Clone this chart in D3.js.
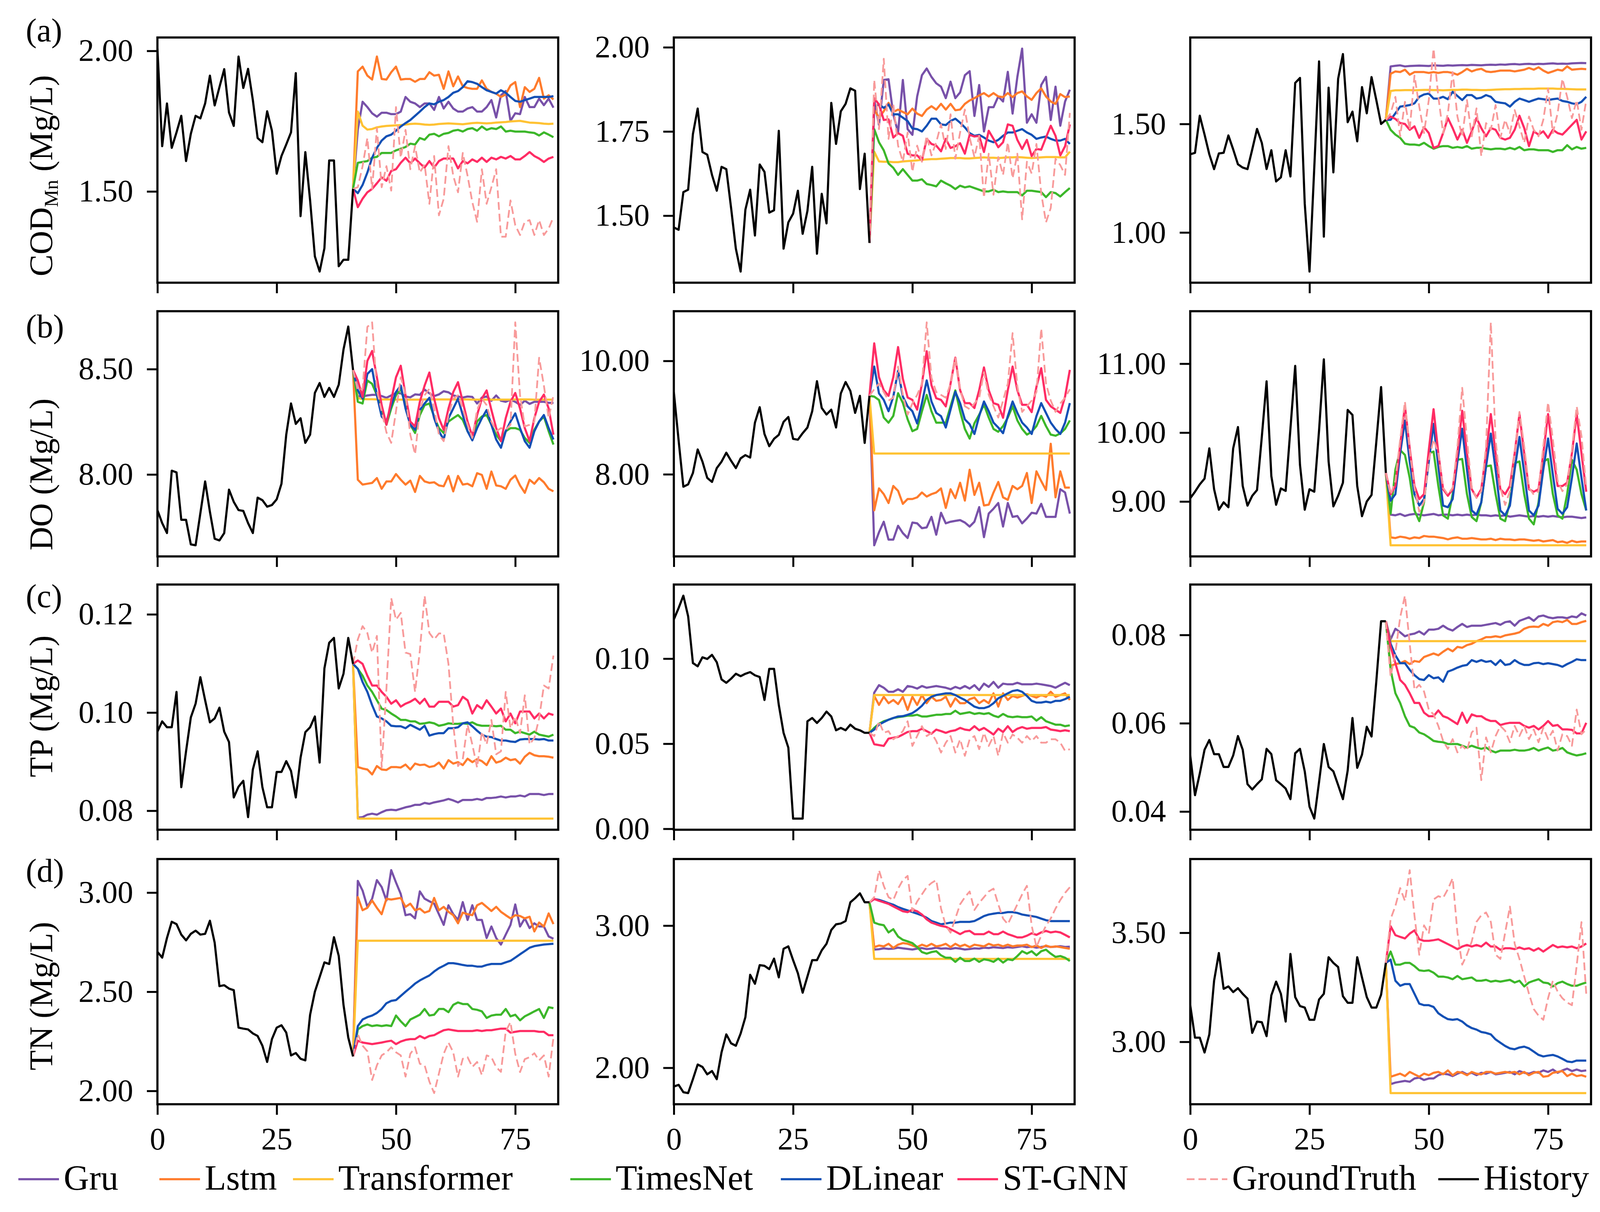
<!DOCTYPE html>
<html>
<head>
<meta charset="utf-8">
<script src="https://cdn.jsdelivr.net/npm/d3@7"></script>
<style>
  html, body { margin: 0; padding: 0; background: #fff; }
  svg { display: block; }
</style>
</head>
<body>
<svg id="chart"></svg>
<script>
// series names, colours and tick labels
const seriesNames = ['Gru', 'Lstm', 'Transformer', 'TimesNet', 'DLinear', 'ST-GNN', 'GroundTruth', 'History'];
const seriesColors = ['#7851a9', '#ff7b2c', '#ffc233', '#3cb72a', '#1350b5', '#ff2c64', '#f89a9a', '#000000'];
const xTickValues = [0, 25, 50, 75];
const rowLetters = ['(a)', '(b)', '(c)', '(d)'];
const yTickValues = [
  [[1.5, 2.0], [1.5, 1.75, 2.0], [1.0, 1.5]],
  [[8.0, 8.5], [8.0, 10.0], [9.0, 10.0, 11.0]],
  [[0.08, 0.10, 0.12], [0.00, 0.05, 0.10], [0.04, 0.06, 0.08]],
  [[2.0, 2.5, 3.0], [2.0, 3.0], [3.0, 3.5]]
];

// ---- (a) COD, column 1
const a1History = [2.008, 1.661, 1.813, 1.655, 1.71, 1.769, 1.608, 1.705, 1.769, 1.76,
  1.813, 1.912, 1.806, 1.871, 1.935, 1.781, 1.733, 1.98, 1.868, 1.936,
  1.825, 1.69, 1.675, 1.785, 1.716, 1.563, 1.626, 1.667, 1.71, 1.921,
  1.412, 1.64, 1.468, 1.269, 1.215, 1.298, 1.61, 1.61, 1.234, 1.257,
  1.257, 1.509];
const a1Gru = [1.72, 1.819, 1.80, 1.778, 1.766, 1.78, 1.78, 1.775, 1.775, 1.784,
  1.836, 1.819, 1.813, 1.80, 1.813, 1.813, 1.79, 1.836, 1.795, 1.819,
  1.795, 1.784, 1.784, 1.795, 1.80, 1.784, 1.784, 1.80, 1.825, 1.763,
  1.842, 1.857, 1.751, 1.778, 1.775, 1.836, 1.80, 1.80, 1.83, 1.807,
  1.83, 1.798];
const a1Lstm = [1.927, 1.944, 1.912, 1.898, 1.98, 1.90, 1.898, 1.924, 1.944, 1.898,
  1.90, 1.90, 1.89, 1.90, 1.90, 1.924, 1.912, 1.915, 1.865, 1.927,
  1.874, 1.909, 1.874, 1.868, 1.865, 1.865, 1.895, 1.865, 1.854, 1.848,
  1.836, 1.845, 1.877, 1.889, 1.80, 1.871, 1.854, 1.865, 1.904, 1.83,
  1.842, 1.827];
const a1Transformer = [1.784, 1.734, 1.72, 1.722, 1.728, 1.731, 1.733, 1.734, 1.735, 1.736,
  1.738, 1.740, 1.741, 1.740, 1.738, 1.737, 1.738, 1.740, 1.741, 1.742,
  1.741, 1.740, 1.739, 1.741, 1.743, 1.744, 1.743, 1.742, 1.743, 1.745,
  1.746, 1.747, 1.749, 1.750, 1.751, 1.748, 1.745, 1.744, 1.743, 1.741,
  1.740, 1.741];
const a1TimesNet = [1.602, 1.605, 1.608, 1.62, 1.623, 1.637, 1.637, 1.637, 1.646, 1.652,
  1.658, 1.67, 1.667, 1.69, 1.684, 1.702, 1.705, 1.696, 1.705, 1.708,
  1.716, 1.719, 1.713, 1.722, 1.725, 1.716, 1.731, 1.719, 1.725, 1.722,
  1.731, 1.713, 1.716, 1.713, 1.713, 1.713, 1.71, 1.708, 1.699, 1.71,
  1.702, 1.693];
const a1DLinear = [1.494, 1.523, 1.567, 1.62, 1.655, 1.681, 1.696, 1.702, 1.716, 1.731,
  1.743, 1.754, 1.769, 1.784, 1.80, 1.813, 1.81, 1.819, 1.825, 1.836,
  1.851, 1.857, 1.871, 1.892, 1.889, 1.883, 1.871, 1.86, 1.854, 1.848,
  1.86, 1.851, 1.836, 1.822, 1.819, 1.825, 1.83, 1.836, 1.836, 1.836,
  1.836, 1.839];
const a1STGNN = [1.444, 1.474, 1.497, 1.509, 1.529, 1.55, 1.538, 1.573, 1.579, 1.602,
  1.62, 1.60, 1.617, 1.60, 1.585, 1.608, 1.585, 1.608, 1.617, 1.617,
  1.617, 1.582, 1.608, 1.60, 1.614, 1.605, 1.62, 1.605, 1.62, 1.614,
  1.623, 1.617, 1.626, 1.614, 1.614, 1.626, 1.64, 1.626, 1.617, 1.605,
  1.617, 1.623];
const a1GroundTruth = [1.515, 1.59, 1.69, 1.509, 1.725, 1.515, 1.59, 1.503, 1.80, 1.62,
  1.719, 1.579, 1.661, 1.567, 1.596, 1.456, 1.626, 1.415, 1.474, 1.661,
  1.556, 1.497, 1.637, 1.556, 1.462, 1.392, 1.579, 1.456, 1.515, 1.579,
  1.339, 1.339, 1.468, 1.38, 1.345, 1.392, 1.398, 1.345, 1.398, 1.345,
  1.368, 1.409];

// ---- (a) COD, column 2
const a2History = [1.465, 1.458, 1.57, 1.577, 1.742, 1.818, 1.689, 1.681, 1.621, 1.574,
  1.645, 1.638, 1.523, 1.402, 1.334, 1.518, 1.577, 1.441, 1.652, 1.63,
  1.509, 1.516, 1.752, 1.402, 1.48, 1.506, 1.574, 1.446, 1.514, 1.645,
  1.387, 1.565, 1.477, 1.835, 1.713, 1.81, 1.832, 1.878, 1.871, 1.579,
  1.684, 1.419];
const a2Gru = [1.844, 1.769, 1.903, 1.905, 1.801, 1.747, 1.903, 1.757, 1.74, 1.854,
  1.917, 1.937, 1.912, 1.893, 1.883, 1.849, 1.898, 1.849, 1.866, 1.917,
  1.929, 1.796, 1.888, 1.75, 1.822, 1.822, 1.854, 1.839, 1.927, 1.803,
  1.912, 1.996, 1.776, 1.801, 1.776, 1.888, 1.912, 1.784, 1.883, 1.767,
  1.839, 1.874];
const a2Lstm = [1.815, 1.791, 1.81, 1.835, 1.808, 1.815, 1.808, 1.801, 1.818, 1.803,
  1.796, 1.815, 1.825, 1.815, 1.832, 1.815, 1.832, 1.813, 1.815, 1.832,
  1.842, 1.849, 1.857, 1.864, 1.854, 1.864, 1.854, 1.852, 1.864, 1.852,
  1.864, 1.869, 1.854, 1.844, 1.864, 1.878, 1.854, 1.839, 1.832, 1.861,
  1.852, 1.854];
const a2Transformer = [1.690, 1.661, 1.660, 1.660, 1.659, 1.659, 1.661, 1.662, 1.663, 1.664,
  1.666, 1.667, 1.668, 1.668, 1.669, 1.670, 1.671, 1.671, 1.671, 1.670,
  1.670, 1.671, 1.672, 1.673, 1.672, 1.672, 1.671, 1.672, 1.673, 1.673,
  1.674, 1.673, 1.672, 1.671, 1.672, 1.673, 1.674, 1.674, 1.674, 1.673,
  1.673, 1.690];
const a2TimesNet = [1.757, 1.718, 1.694, 1.655, 1.642, 1.621, 1.638, 1.621, 1.604, 1.604,
  1.608, 1.594, 1.591, 1.587, 1.604, 1.596, 1.589, 1.579, 1.589, 1.584,
  1.587, 1.582, 1.577, 1.572, 1.572, 1.577, 1.57, 1.572, 1.57, 1.57,
  1.57, 1.56, 1.574, 1.574, 1.572, 1.57, 1.555, 1.57, 1.567, 1.557,
  1.57, 1.582];
const a2DLinear = [1.825, 1.83, 1.82, 1.83, 1.801, 1.801, 1.791, 1.781, 1.759, 1.757,
  1.75, 1.767, 1.788, 1.788, 1.771, 1.769, 1.781, 1.788, 1.776, 1.762,
  1.745, 1.737, 1.74, 1.732, 1.723, 1.718, 1.725, 1.737, 1.747, 1.747,
  1.752, 1.757, 1.747, 1.74, 1.728, 1.732, 1.735, 1.728, 1.723, 1.723,
  1.728, 1.713];
const a2STGNN = [1.849, 1.83, 1.784, 1.786, 1.732, 1.745, 1.737, 1.684, 1.679, 1.679,
  1.664, 1.728, 1.713, 1.708, 1.691, 1.728, 1.701, 1.706, 1.715, 1.684,
  1.74, 1.735, 1.737, 1.689, 1.752, 1.728, 1.703, 1.718, 1.771, 1.767,
  1.725, 1.698, 1.725, 1.677, 1.698, 1.696, 1.732, 1.767, 1.737, 1.679,
  1.706, 1.771];
const a2GroundTruth = [1.903, 1.757, 1.966, 1.728, 1.83, 1.708, 1.66, 1.747, 1.63, 1.708,
  1.66, 1.737, 1.679, 1.718, 1.771, 1.698, 1.801, 1.669, 1.747, 1.815,
  1.732, 1.674, 1.737, 1.553, 1.684, 1.562, 1.674, 1.621, 1.718, 1.611,
  1.684, 1.489, 1.66, 1.625, 1.713, 1.567, 1.48, 1.523, 1.669, 1.65,
  1.621, 1.805];

// ---- (a) COD, column 3
const a3History = [1.36, 1.367, 1.538, 1.451, 1.36, 1.292, 1.364, 1.367, 1.447, 1.383,
  1.314, 1.299, 1.292, 1.383, 1.477, 1.413, 1.292, 1.379, 1.235, 1.254,
  1.379, 1.258, 1.689, 1.712, 1.133, 0.82, 1.30, 1.788, 0.981, 1.667,
  1.277, 1.708, 1.822, 1.508, 1.557, 1.42, 1.67, 1.549, 1.716, 1.61,
  1.50, 1.519];
const a3Gru = [1.765, 1.768, 1.770, 1.765, 1.767, 1.768, 1.769, 1.768, 1.767, 1.770,
  1.769, 1.768, 1.770, 1.769, 1.770, 1.771, 1.770, 1.772, 1.771, 1.770,
  1.772, 1.773, 1.772, 1.774, 1.773, 1.775, 1.776, 1.774, 1.776, 1.777,
  1.775, 1.777, 1.776, 1.778, 1.779, 1.777, 1.778, 1.777, 1.779, 1.780,
  1.781, 1.780];
const a3Lstm = [1.731, 1.742, 1.739, 1.75, 1.727, 1.739, 1.739, 1.739, 1.735, 1.739,
  1.735, 1.739, 1.739, 1.735, 1.727, 1.739, 1.754, 1.742, 1.75, 1.754,
  1.742, 1.739, 1.742, 1.746, 1.746, 1.746, 1.742, 1.746, 1.75, 1.758,
  1.75, 1.761, 1.746, 1.735, 1.742, 1.75, 1.746, 1.765, 1.75, 1.752,
  1.754, 1.752];
const a3Transformer = [1.652, 1.655, 1.655, 1.656, 1.656, 1.655, 1.656, 1.657, 1.657, 1.656,
  1.656, 1.655, 1.656, 1.657, 1.657, 1.658, 1.658, 1.657, 1.657, 1.656,
  1.656, 1.657, 1.658, 1.659, 1.660, 1.660, 1.661, 1.661, 1.662, 1.662,
  1.662, 1.663, 1.663, 1.663, 1.663, 1.662, 1.662, 1.661, 1.660, 1.659,
  1.659, 1.659];
const a3TimesNet = [1.473, 1.451, 1.436, 1.409, 1.405, 1.405, 1.402, 1.413, 1.398, 1.386,
  1.394, 1.398, 1.398, 1.39, 1.394, 1.39, 1.398, 1.386, 1.39, 1.39,
  1.386, 1.383, 1.386, 1.386, 1.383, 1.39, 1.383, 1.394, 1.379, 1.383,
  1.383, 1.379, 1.379, 1.379, 1.371, 1.379, 1.379, 1.402, 1.383, 1.394,
  1.386, 1.39];
const a3DLinear = [1.519, 1.549, 1.58, 1.583, 1.587, 1.595, 1.625, 1.636, 1.64, 1.617,
  1.617, 1.625, 1.614, 1.648, 1.629, 1.61, 1.633, 1.633, 1.617, 1.621,
  1.633, 1.625, 1.602, 1.598, 1.595, 1.58, 1.602, 1.617, 1.61, 1.602,
  1.61, 1.617, 1.614, 1.61, 1.614, 1.617, 1.606, 1.602, 1.595, 1.591,
  1.602, 1.625];
const a3STGNN = [1.534, 1.523, 1.504, 1.50, 1.473, 1.489, 1.436, 1.485, 1.458, 1.39,
  1.398, 1.458, 1.527, 1.481, 1.428, 1.473, 1.413, 1.466, 1.527, 1.481,
  1.443, 1.481, 1.473, 1.436, 1.428, 1.436, 1.473, 1.538, 1.481, 1.398,
  1.466, 1.451, 1.466, 1.436, 1.473, 1.458, 1.451, 1.473, 1.496, 1.519,
  1.428, 1.466];
const a3GroundTruth = [1.549, 1.625, 1.443, 1.602, 1.473, 1.723, 1.58, 1.458, 1.61, 1.847,
  1.625, 1.458, 1.549, 1.739, 1.534, 1.443, 1.61, 1.443, 1.572, 1.352,
  1.504, 1.473, 1.587, 1.436, 1.519, 1.458, 1.564, 1.489, 1.413, 1.534,
  1.473, 1.443, 1.519, 1.663, 1.458, 1.549, 1.708, 1.625, 1.527, 1.61,
  1.473, 1.61];

// ---- (b) DO, column 1
const b1History = [7.831, 7.769, 7.722, 8.018, 8.01, 7.785, 7.785, 7.668, 7.664, 7.816,
  7.967, 7.823, 7.695, 7.687, 7.722, 7.928, 7.87, 7.831, 7.827, 7.769,
  7.722, 7.89, 7.878, 7.847, 7.855, 7.882, 7.956, 8.189, 8.337, 8.24,
  8.267, 8.15, 8.189, 8.387, 8.434, 8.368, 8.411, 8.368, 8.426, 8.593,
  8.702, 8.496];
const b1Gru = [8.372, 8.370, 8.375, 8.378, 8.378, 8.372, 8.364, 8.375, 8.387, 8.385,
  8.370, 8.366, 8.380, 8.378, 8.403, 8.385, 8.372, 8.380, 8.395, 8.390,
  8.375, 8.370, 8.365, 8.370, 8.368, 8.337, 8.365, 8.370, 8.350, 8.375,
  8.350, 8.345, 8.355, 8.345, 8.330, 8.350, 8.335, 8.345, 8.345, 8.345,
  8.340, 8.340];
const b1Lstm = [7.975, 7.952, 7.956, 7.96, 7.983, 7.932, 7.967, 7.967, 8.002, 7.975,
  7.952, 7.971, 7.917, 7.993, 7.967, 7.96, 7.963, 7.948, 7.944, 7.993,
  7.92, 7.993, 7.952, 7.956, 7.944, 8.006, 7.998, 7.932, 8.014, 7.948,
  7.944, 7.932, 7.975, 7.995, 7.948, 7.913, 7.975, 7.956, 7.983, 7.963,
  7.932, 7.92];
const b1Transformer = [8.362, 8.358, 8.357, 8.357, 8.356, 8.356, 8.356, 8.356, 8.355, 8.355,
  8.355, 8.355, 8.355, 8.355, 8.356, 8.356, 8.356, 8.356, 8.356, 8.356,
  8.356, 8.356, 8.356, 8.356, 8.355, 8.355, 8.355, 8.355, 8.355, 8.355,
  8.355, 8.355, 8.355, 8.356, 8.356, 8.356, 8.356, 8.355, 8.355, 8.355,
  8.355, 8.355];
const b1TimesNet = [8.345, 8.337, 8.446, 8.43, 8.376, 8.306, 8.236, 8.313, 8.376, 8.407,
  8.329, 8.236, 8.197, 8.282, 8.329, 8.337, 8.275, 8.22, 8.197, 8.251,
  8.267, 8.282, 8.259, 8.205, 8.173, 8.251, 8.275, 8.282, 8.236, 8.189,
  8.158, 8.205, 8.22, 8.22, 8.212, 8.173, 8.15, 8.212, 8.251, 8.275,
  8.205, 8.142];
const b1DLinear = [8.40, 8.36, 8.477, 8.50, 8.376, 8.275, 8.251, 8.329, 8.391, 8.422,
  8.313, 8.236, 8.212, 8.306, 8.337, 8.364, 8.267, 8.205, 8.166, 8.267,
  8.313, 8.36, 8.282, 8.205, 8.162, 8.22, 8.267, 8.306, 8.236, 8.166,
  8.127, 8.205, 8.251, 8.29, 8.22, 8.158, 8.127, 8.205, 8.251, 8.282,
  8.22, 8.166];
const b1STGNN = [8.446, 8.368, 8.539, 8.586, 8.461, 8.329, 8.236, 8.352, 8.461, 8.516,
  8.376, 8.251, 8.228, 8.345, 8.422, 8.484, 8.36, 8.267, 8.212, 8.313,
  8.391, 8.438, 8.345, 8.251, 8.181, 8.282, 8.36, 8.399, 8.306, 8.22,
  8.158, 8.267, 8.345, 8.387, 8.313, 8.22, 8.158, 8.267, 8.345, 8.379,
  8.313, 8.189];
const b1GroundTruth = [8.40, 8.407, 8.70, 8.722, 8.40, 8.30, 8.20, 8.15, 8.30, 8.461,
  8.383, 8.189, 8.096, 8.306, 8.376, 8.407, 8.313, 8.189, 8.158, 8.282,
  8.36, 8.376, 8.313, 8.236, 8.173, 8.306, 8.36, 8.329, 8.251, 8.205,
  8.22, 8.212, 8.236, 8.722, 8.376, 8.228, 8.236, 8.251, 8.554, 8.422,
  8.267, 8.376];

// ---- (b) DO, column 2
const b2History = [9.45, 8.60, 7.78, 7.822, 8.023, 8.438, 8.223, 7.937, 7.865, 8.109,
  8.223, 8.381, 8.238, 8.109, 8.281, 8.338, 8.295, 8.911, 9.183, 8.711,
  8.496, 8.625, 8.696, 8.925, 9.011, 8.625, 8.61, 8.725, 8.825, 9.112,
  9.642, 9.169, 9.054, 9.14, 8.825, 9.427, 9.628, 9.47, 9.083, 9.384,
  8.553, 9.384];
const b2Gru = [6.748, 6.977, 7.163, 6.848, 6.848, 7.092, 6.963, 6.877, 7.149, 7.135,
  7.049, 7.063, 7.249, 6.934, 7.321, 7.135, 7.163, 7.178, 7.192, 7.149,
  7.078, 7.163, 7.421, 6.891, 7.307, 7.393, 7.493, 7.078, 7.493, 7.249,
  7.264, 7.135, 7.221, 7.321, 7.307, 7.479, 7.249, 7.249, 7.249, 7.736,
  7.679, 7.307];
const b2Lstm = [7.364, 7.751, 7.65, 7.493, 7.794, 7.708, 7.479, 7.564, 7.564, 7.593,
  7.679, 7.607, 7.65, 7.679, 7.751, 7.407, 7.736, 7.579, 7.851, 7.536,
  8.08, 7.636, 7.851, 7.45, 7.464, 7.679, 7.865, 7.593, 7.55, 7.794,
  7.736, 7.794, 8.023, 7.493, 8.052, 7.88, 7.722, 8.539, 7.593, 8.052,
  7.765, 7.765];
const b2Transformer = [8.367, 8.367, 8.367, 8.367, 8.367, 8.367, 8.367, 8.367, 8.367, 8.367,
  8.367, 8.367, 8.367, 8.367, 8.367, 8.367, 8.367, 8.367, 8.367, 8.367,
  8.367, 8.367, 8.367, 8.367, 8.367, 8.367, 8.367, 8.367, 8.367, 8.367,
  8.367, 8.367, 8.367, 8.367, 8.367, 8.367, 8.367, 8.367, 8.367, 8.367,
  8.367, 8.367];
const b2TimesNet = [9.37, 9.31, 9.00, 8.91, 9.03, 9.43, 9.26, 8.97, 8.76, 8.80,
  9.11, 9.40, 9.11, 8.91, 8.91, 8.91, 9.20, 9.48, 9.11, 8.80,
  8.63, 8.90, 9.05, 9.23, 9.00, 8.80, 8.75, 8.85, 9.00, 9.20,
  8.95, 8.80, 8.70, 8.75, 8.85, 9.03, 8.85, 8.70, 8.68, 8.72,
  8.80, 8.95];
const b2DLinear = [9.90, 9.427, 9.312, 9.112, 9.37, 9.828, 9.37, 9.198, 9.112, 8.897,
  9.255, 9.656, 9.284, 9.083, 9.026, 8.825, 9.14, 9.456, 9.255, 8.968,
  8.883, 8.711, 9.026, 9.284, 9.112, 8.911, 8.825, 8.725, 9.026, 9.284,
  9.083, 8.911, 8.825, 8.711, 9.026, 9.255, 9.083, 8.911, 8.797, 8.711,
  8.911, 9.255];
const b2STGNN = [10.31, 9.713, 9.484, 9.384, 9.713, 10.244, 9.685, 9.355, 9.312, 9.14,
  9.599, 10.17, 9.57, 9.341, 9.312, 9.198, 9.599, 10.057, 9.484, 9.255,
  9.255, 9.169, 9.484, 9.885, 9.484, 9.255, 9.226, 8.997, 9.484, 9.90,
  9.484, 9.226, 9.226, 9.097, 9.542, 9.871, 9.312, 9.198, 9.14, 9.083,
  9.37, 9.842];
const b2GroundTruth = [9.50, 9.60, 9.45, 9.30, 9.35, 9.90, 9.40, 9.05, 9.25, 9.40,
  9.60, 10.68, 9.70, 9.45, 9.40, 9.35, 9.60, 10.05, 9.50, 9.20,
  9.15, 9.25, 9.35, 9.80, 9.40, 9.20, 9.00, 9.30, 9.60, 10.49,
  9.55, 9.10, 9.20, 9.30, 9.45, 10.57, 9.60, 9.30, 9.10, 9.25,
  9.35, 9.50];

// ---- (b) DO, column 3
const b3History = [9.047, 9.142, 9.249, 9.332, 9.771, 9.178, 8.881, 8.988, 8.917, 9.771,
  10.08, 9.225, 8.94, 9.083, 9.166, 9.937, 10.744, 9.368, 8.953, 9.19,
  9.154, 10.056, 10.969, 9.534, 8.881, 9.178, 9.142, 10.032, 11.064, 9.581,
  8.929, 9.083, 9.273, 10.329, 10.257, 9.225, 8.787, 9.0, 9.095, 9.866,
  10.661, 9.415];
const b3Gru = [8.81, 8.80, 8.82, 8.79, 8.81, 8.82, 8.81, 8.80, 8.81, 8.82,
  8.80, 8.81, 8.81, 8.80, 8.81, 8.80, 8.81, 8.80, 8.81, 8.80,
  8.80, 8.79, 8.80, 8.79, 8.80, 8.78, 8.79, 8.80, 8.79, 8.78,
  8.79, 8.78, 8.79, 8.78, 8.79, 8.78, 8.77, 8.78, 8.78, 8.77,
  8.76, 8.77];
const b3Lstm = [8.48, 8.47, 8.49, 8.48, 8.46, 8.48, 8.47, 8.50, 8.49, 8.49,
  8.48, 8.47, 8.45, 8.47, 8.48, 8.46, 8.46, 8.47, 8.46, 8.45,
  8.45, 8.46, 8.44, 8.46, 8.45, 8.45, 8.44, 8.45, 8.45, 8.44,
  8.43, 8.44, 8.42, 8.43, 8.44, 8.41, 8.42, 8.40, 8.43, 8.41,
  8.42, 8.42];
const b3Transformer = [8.365, 8.365, 8.365, 8.365, 8.365, 8.365, 8.365, 8.365, 8.365, 8.365,
  8.365, 8.365, 8.365, 8.365, 8.365, 8.365, 8.365, 8.365, 8.365, 8.365,
  8.365, 8.365, 8.365, 8.365, 8.365, 8.365, 8.365, 8.365, 8.365, 8.365,
  8.365, 8.365, 8.365, 8.365, 8.365, 8.365, 8.365, 8.365, 8.365, 8.365,
  8.365, 8.365];
const b3TimesNet = [8.822, 9.463, 9.747, 9.676, 9.344, 8.87, 8.715, 8.988, 9.70, 9.724,
  9.225, 8.798, 8.751, 9.107, 9.605, 9.617, 9.107, 8.775, 8.715, 8.988,
  9.51, 9.522, 9.107, 8.751, 8.715, 8.988, 9.558, 9.581, 9.107, 8.751,
  8.668, 8.988, 9.581, 9.617, 9.107, 8.798, 8.751, 9.107, 9.605, 9.463,
  9.107, 8.87];
const b3DLinear = [9.012, 9.107, 9.70, 10.174, 9.581, 9.107, 8.941, 9.036, 9.581, 10.127,
  9.51, 8.941, 8.917, 9.036, 9.581, 10.056, 9.463, 8.87, 8.81, 8.988,
  9.51, 9.985, 9.463, 8.87, 8.80, 8.941, 9.463, 9.937, 9.415, 8.87,
  8.80, 8.941, 9.463, 9.914, 9.392, 8.894, 8.822, 8.917, 9.344, 9.842,
  9.344, 8.87];
const b3STGNN = [9.107, 9.225, 9.819, 10.388, 9.771, 9.225, 9.036, 9.107, 9.747, 10.34,
  9.70, 9.178, 9.083, 9.178, 9.70, 10.317, 9.70, 9.178, 9.06, 9.178,
  9.70, 10.269, 9.70, 9.178, 9.107, 9.225, 9.70, 10.269, 9.70, 9.178,
  9.142, 9.178, 9.70, 10.269, 9.70, 9.225, 9.225, 9.273, 9.70, 10.269,
  9.70, 9.142];
const b3GroundTruth = [9.10, 9.30, 9.90, 10.45, 9.75, 9.20, 8.85, 9.00, 9.60, 9.90,
  9.70, 9.20, 9.10, 9.20, 9.80, 10.65, 9.90, 9.20, 9.05, 9.15,
  9.80, 11.60, 9.90, 9.20, 8.95, 9.15, 9.70, 10.30, 9.80, 9.20,
  9.10, 9.15, 9.80, 10.44, 9.90, 9.30, 9.15, 9.25, 9.75, 10.38,
  9.95, 9.20];

// ---- (c) TP, column 1
const c1History = [0.0961, 0.0982, 0.097, 0.097, 0.1042, 0.0848, 0.0921, 0.099, 0.1018, 0.1072,
  0.1025, 0.098, 0.0988, 0.101, 0.0961, 0.094, 0.0827, 0.0849, 0.0861, 0.0787,
  0.0884, 0.0921, 0.0848, 0.0807, 0.0807, 0.0879, 0.0879, 0.0901, 0.0881, 0.0827,
  0.0908, 0.096, 0.097, 0.0992, 0.0898, 0.109, 0.1142, 0.1152, 0.1049, 0.1079,
  0.1152, 0.1099];
const c1Gru = [0.0786, 0.0787, 0.0792, 0.0794, 0.0792, 0.0797, 0.0801, 0.0802, 0.0801, 0.0804,
  0.0807, 0.0809, 0.0812, 0.0812, 0.0816, 0.0814, 0.0817, 0.0819, 0.0821, 0.0824,
  0.0821, 0.0817, 0.0822, 0.0822, 0.0822, 0.0824, 0.0822, 0.0826, 0.0826, 0.0827,
  0.0829, 0.0827, 0.0829, 0.0829, 0.0831, 0.0829, 0.0834, 0.0834, 0.0834, 0.0832,
  0.0834, 0.0834];
const c1Lstm = [0.0889, 0.0886, 0.0884, 0.0874, 0.0891, 0.0884, 0.0883, 0.0889, 0.0889, 0.0888,
  0.0894, 0.0884, 0.0896, 0.0893, 0.0894, 0.0889, 0.0891, 0.0898, 0.0886, 0.0903,
  0.0896, 0.0899, 0.0893, 0.0906, 0.0899, 0.0905, 0.0901, 0.0893, 0.0911, 0.0898,
  0.0901, 0.0908, 0.0903, 0.0905, 0.0896, 0.091, 0.0918, 0.0913, 0.0911, 0.0911,
  0.091, 0.0908];
const c1Transformer = [0.0784, 0.0784, 0.0784, 0.0784, 0.0784, 0.0784, 0.0784, 0.0784, 0.0784, 0.0784,
  0.0784, 0.0784, 0.0784, 0.0784, 0.0784, 0.0784, 0.0784, 0.0784, 0.0784, 0.0784,
  0.0784, 0.0784, 0.0784, 0.0784, 0.0784, 0.0784, 0.0784, 0.0784, 0.0784, 0.0784,
  0.0784, 0.0784, 0.0784, 0.0784, 0.0784, 0.0784, 0.0784, 0.0784, 0.0784, 0.0784,
  0.0784, 0.0784];
const c1TimesNet = [0.1089, 0.1075, 0.1055, 0.1042, 0.1025, 0.1008, 0.1005, 0.0998, 0.0992, 0.0985,
  0.0985, 0.0982, 0.0982, 0.0977, 0.0978, 0.098, 0.0978, 0.0973, 0.0975, 0.0978,
  0.0977, 0.0977, 0.0978, 0.0977, 0.098, 0.0975, 0.0973, 0.0973, 0.0973, 0.0972,
  0.0973, 0.0965, 0.0965, 0.0958, 0.0961, 0.0958, 0.0955, 0.0961, 0.0955, 0.0953,
  0.0951, 0.0955];
const c1DLinear = [0.1089, 0.1062, 0.1042, 0.1015, 0.0992, 0.0988, 0.0982, 0.0973, 0.0972, 0.0972,
  0.0968, 0.0975, 0.097, 0.0965, 0.0973, 0.0953, 0.0956, 0.0958, 0.0958, 0.0968,
  0.0968, 0.097, 0.0978, 0.098, 0.0972, 0.0963, 0.0955, 0.0951, 0.095, 0.0946,
  0.0943, 0.0943, 0.0941, 0.094, 0.0945, 0.0946, 0.0946, 0.0946, 0.0945, 0.0946,
  0.0943, 0.0943];
const c1STGNN = [0.1106, 0.1099, 0.1075, 0.1055, 0.1055, 0.1042, 0.1032, 0.1018, 0.1025, 0.1012,
  0.1018, 0.1022, 0.1028, 0.1018, 0.1028, 0.1012, 0.1012, 0.1022, 0.1022, 0.1022,
  0.1012, 0.1015, 0.1032, 0.1025, 0.0998, 0.1015, 0.1008, 0.1025, 0.1012, 0.0998,
  0.1008, 0.0982, 0.0998, 0.0978, 0.1002, 0.1002, 0.1002, 0.0988, 0.0998, 0.0988,
  0.0998, 0.0995];
const c1GroundTruth = [0.1149, 0.1176, 0.1162, 0.1122, 0.1156, 0.0888, 0.1049, 0.1233, 0.1189, 0.1203,
  0.1122, 0.1119, 0.1042, 0.1126, 0.1238, 0.1162, 0.1149, 0.1161, 0.1161, 0.1099,
  0.0975, 0.0891, 0.0905, 0.0975, 0.0935, 0.0888, 0.0961, 0.0935, 0.0985, 0.0915,
  0.0921, 0.1042, 0.0968, 0.0992, 0.0958, 0.1035, 0.0935, 0.0948, 0.0988, 0.1055,
  0.1049, 0.1116];

// ---- (c) TP, column 2
const c2History = [0.123, 0.1297, 0.137, 0.1249, 0.0974, 0.0955, 0.1008, 0.0998, 0.1022, 0.0979,
  0.0878, 0.0858, 0.0882, 0.0911, 0.0897, 0.0911, 0.0921, 0.0902, 0.0892, 0.0757,
  0.094, 0.094, 0.0728, 0.0564, 0.0477, 0.006, 0.006, 0.006, 0.0632, 0.0651,
  0.0622, 0.0651, 0.0689, 0.066, 0.0579, 0.0593, 0.0579, 0.0612, 0.0588, 0.0579,
  0.0564, 0.0564];
const c2Gru = [0.08, 0.0844, 0.0829, 0.0805, 0.0805, 0.082, 0.0805, 0.0839, 0.0834, 0.0824,
  0.0839, 0.0829, 0.0834, 0.0839, 0.0834, 0.0829, 0.082, 0.0834, 0.0824, 0.0839,
  0.0824, 0.0844, 0.0815, 0.0853, 0.0834, 0.0863, 0.0829, 0.0853, 0.0849, 0.0849,
  0.0858, 0.0849, 0.0849, 0.0849, 0.0853, 0.0849, 0.0844, 0.0839, 0.0829, 0.0844,
  0.0858, 0.0844];
const c2Lstm = [0.0781, 0.0728, 0.0776, 0.0738, 0.0757, 0.0733, 0.0776, 0.0699, 0.0776, 0.0728,
  0.0786, 0.0738, 0.0776, 0.0752, 0.0757, 0.0776, 0.0718, 0.0767, 0.0738, 0.0738,
  0.0762, 0.0771, 0.0738, 0.0757, 0.0738, 0.0796, 0.0718, 0.0796, 0.0757, 0.0781,
  0.0771, 0.0781, 0.0791, 0.0781, 0.0771, 0.0786, 0.0776, 0.0805, 0.0776, 0.0786,
  0.0796, 0.0757];
const c2Transformer = [0.0786, 0.0786, 0.0786, 0.0786, 0.0786, 0.0786, 0.0786, 0.0786, 0.0786, 0.0786,
  0.0786, 0.0786, 0.0786, 0.0786, 0.0786, 0.0786, 0.0786, 0.0786, 0.0786, 0.0786,
  0.0786, 0.0786, 0.0786, 0.0786, 0.0786, 0.0786, 0.0786, 0.0786, 0.0786, 0.0786,
  0.0786, 0.0786, 0.0786, 0.0786, 0.0786, 0.0786, 0.0786, 0.0786, 0.0786, 0.0786,
  0.0786, 0.0786];
const c2TimesNet = [0.0593, 0.0617, 0.0632, 0.0641, 0.0651, 0.0656, 0.066, 0.0665, 0.0665, 0.067,
  0.066, 0.066, 0.0665, 0.067, 0.067, 0.0675, 0.0675, 0.0694, 0.0675, 0.068,
  0.0685, 0.0675, 0.068, 0.0675, 0.068, 0.0665, 0.0656, 0.0675, 0.066, 0.0656,
  0.066, 0.0656, 0.0656, 0.066, 0.0636, 0.0656, 0.0632, 0.0622, 0.0612, 0.0612,
  0.0603, 0.0608];
const c2DLinear = [0.0583, 0.0612, 0.0627, 0.0641, 0.0651, 0.066, 0.0662, 0.067, 0.068, 0.0699,
  0.0723, 0.0757, 0.0776, 0.0786, 0.0791, 0.0796, 0.0796, 0.0786, 0.0771, 0.0757,
  0.0738, 0.0718, 0.0709, 0.0709, 0.0718, 0.0738, 0.0767, 0.0781, 0.0796, 0.081,
  0.0815, 0.0805, 0.0781, 0.0752, 0.0742, 0.0742, 0.0747, 0.0742, 0.0752, 0.0752,
  0.0762, 0.0776];
const c2STGNN = [0.0497, 0.0492, 0.0487, 0.053, 0.0535, 0.054, 0.0554, 0.0569, 0.0574, 0.0574,
  0.0588, 0.0574, 0.0559, 0.0583, 0.0574, 0.0564, 0.0574, 0.0579, 0.0593, 0.0583,
  0.0579, 0.0603, 0.0579, 0.0593, 0.0574, 0.0554, 0.0588, 0.0569, 0.0603, 0.0569,
  0.0588, 0.0598, 0.0588, 0.0593, 0.0593, 0.0593, 0.0598, 0.0583, 0.0579, 0.0574,
  0.0579, 0.0574];
const c2GroundTruth = [0.0545, 0.0632, 0.0564, 0.0574, 0.0526, 0.0545, 0.0574, 0.0632, 0.0487, 0.0545,
  0.0603, 0.0545, 0.0564, 0.0516, 0.0448, 0.0506, 0.0545, 0.0448, 0.0526, 0.0429,
  0.0526, 0.0545, 0.0468, 0.0564, 0.0487, 0.0545, 0.0429, 0.0564, 0.0506, 0.0554,
  0.0535, 0.0506, 0.0545, 0.0516, 0.0545, 0.0506, 0.0506, 0.0526, 0.0526, 0.0506,
  0.0458, 0.0468];

// ---- (c) TP, column 3
const c3History = [0.0527, 0.0437, 0.0486, 0.054, 0.0562, 0.053, 0.053, 0.0501, 0.0501, 0.0527,
  0.0571, 0.054, 0.0462, 0.045, 0.0462, 0.0473, 0.0542, 0.053, 0.0471, 0.0462,
  0.0452, 0.0428, 0.0532, 0.0542, 0.0491, 0.0411, 0.0384, 0.0467, 0.0553, 0.0501,
  0.0491, 0.046, 0.0428, 0.0493, 0.0612, 0.0499, 0.0529, 0.0592, 0.057, 0.0695,
  0.0831, 0.0831];
const c3Gru = [0.079, 0.0814, 0.0806, 0.0797, 0.0801, 0.0803, 0.0808, 0.0801, 0.0812, 0.0812,
  0.0814, 0.0821, 0.0814, 0.081, 0.0818, 0.0825, 0.0818, 0.0821, 0.0821, 0.0821,
  0.0823, 0.0825, 0.0827, 0.0823, 0.0829, 0.0831, 0.0821, 0.0832, 0.0836, 0.084,
  0.0832, 0.0842, 0.0844, 0.084, 0.0838, 0.084, 0.084, 0.0838, 0.0842, 0.084,
  0.0849, 0.0844];
const c3Lstm = [0.073, 0.0734, 0.0736, 0.0741, 0.0734, 0.0741, 0.0739, 0.075, 0.0754, 0.0758,
  0.0754, 0.0762, 0.0769, 0.0763, 0.0773, 0.0771, 0.0777, 0.078, 0.0786, 0.079,
  0.0795, 0.0795, 0.0797, 0.0795, 0.0799, 0.0801, 0.0803, 0.0806, 0.0814, 0.0818,
  0.0819, 0.0818, 0.0825, 0.0821, 0.0829, 0.0831, 0.0829, 0.0834, 0.0825, 0.0825,
  0.0829, 0.0832];
const c3Transformer = [0.0786, 0.0786, 0.0786, 0.0786, 0.0786, 0.0786, 0.0786, 0.0786, 0.0786, 0.0786,
  0.0786, 0.0786, 0.0786, 0.0786, 0.0786, 0.0786, 0.0786, 0.0786, 0.0786, 0.0786,
  0.0786, 0.0786, 0.0786, 0.0786, 0.0786, 0.0786, 0.0786, 0.0786, 0.0786, 0.0786,
  0.0786, 0.0786, 0.0786, 0.0786, 0.0786, 0.0786, 0.0786, 0.0786, 0.0786, 0.0786,
  0.0786, 0.0786];
const c3TimesNet = [0.0721, 0.0668, 0.0646, 0.0616, 0.0594, 0.059, 0.0579, 0.0575, 0.0568, 0.056,
  0.0558, 0.0557, 0.0553, 0.0553, 0.0553, 0.0549, 0.0545, 0.0549, 0.0545, 0.0542,
  0.0545, 0.0538, 0.0534, 0.0538, 0.0538, 0.0538, 0.054, 0.0538, 0.0538, 0.054,
  0.0544, 0.0538, 0.0542, 0.0545, 0.0538, 0.054, 0.0544, 0.0534, 0.053, 0.0527,
  0.0529, 0.0532];
const c3DLinear = [0.078, 0.0754, 0.0736, 0.0736, 0.0721, 0.0709, 0.07, 0.0698, 0.0709, 0.0702,
  0.0704, 0.0694, 0.0717, 0.0721, 0.0726, 0.073, 0.0732, 0.0743, 0.0739, 0.0743,
  0.0739, 0.0741, 0.0732, 0.0743, 0.0732, 0.0734, 0.0743, 0.0736, 0.0732, 0.0732,
  0.0736, 0.0737, 0.0734, 0.0736, 0.0734, 0.0732, 0.0728, 0.0734, 0.0739, 0.0745,
  0.0743, 0.0743];
const c3STGNN = [0.0773, 0.0736, 0.0698, 0.0687, 0.0668, 0.0646, 0.0646, 0.0624, 0.0616, 0.0616,
  0.0629, 0.0616, 0.0612, 0.0605, 0.0598, 0.0624, 0.0601, 0.062, 0.0616, 0.0616,
  0.0609, 0.0605, 0.0605, 0.0596, 0.0599, 0.0601, 0.0601, 0.0601, 0.0594, 0.059,
  0.0594, 0.0586, 0.0594, 0.0605, 0.0594, 0.0596, 0.0586, 0.0586, 0.0585, 0.0577,
  0.0577, 0.0601];
const c3GroundTruth = [0.0706, 0.076, 0.084, 0.0889, 0.078, 0.0676, 0.0687, 0.0672, 0.0631, 0.062,
  0.0594, 0.056, 0.0542, 0.0564, 0.0534, 0.0549, 0.0538, 0.0579, 0.059, 0.0471,
  0.0568, 0.0534, 0.0571, 0.0594, 0.0583, 0.0557, 0.0594, 0.0571, 0.0594, 0.0564,
  0.0586, 0.0557, 0.059, 0.0564, 0.0583, 0.0538, 0.0575, 0.0571, 0.0549, 0.0631,
  0.0575, 0.0586];

// ---- (d) TN, column 1
const d1History = [2.701, 2.672, 2.771, 2.853, 2.841, 2.788, 2.759, 2.792, 2.808, 2.788,
  2.792, 2.858, 2.747, 2.528, 2.533, 2.516, 2.508, 2.319, 2.314, 2.31,
  2.29, 2.277, 2.228, 2.146, 2.261, 2.319, 2.331, 2.294, 2.179, 2.191,
  2.162, 2.154, 2.384, 2.50, 2.574, 2.648, 2.64, 2.775, 2.681, 2.434,
  2.269, 2.174];
const d1Gru = [3.059, 3.01, 2.928, 2.969, 3.063, 3.028, 2.96, 3.113, 3.051, 2.993,
  2.886, 2.891, 2.87, 3.006, 2.969, 2.956, 2.944, 2.891, 2.837, 2.936,
  2.891, 2.862, 2.952, 2.862, 2.936, 2.862, 2.862, 2.771, 2.829, 2.771,
  2.738, 2.788, 2.837, 2.94, 2.829, 2.87, 2.821, 2.845, 2.829, 2.829,
  2.779, 2.767];
const d1Lstm = [2.977, 2.911, 2.923, 2.96, 2.923, 2.891, 2.969, 2.965, 2.969, 2.973,
  2.928, 2.944, 2.911, 2.919, 2.899, 2.907, 2.973, 2.911, 2.928, 2.903,
  2.886, 2.845, 2.899, 2.891, 2.886, 2.936, 2.948, 2.928, 2.907, 2.928,
  2.903, 2.886, 2.87, 2.886, 2.882, 2.87, 2.878, 2.804, 2.849, 2.829,
  2.895, 2.841];
const d1Transformer = [2.757, 2.757, 2.757, 2.757, 2.757, 2.757, 2.757, 2.757, 2.757, 2.757,
  2.757, 2.757, 2.757, 2.757, 2.757, 2.757, 2.757, 2.757, 2.757, 2.757,
  2.757, 2.757, 2.757, 2.757, 2.757, 2.757, 2.757, 2.757, 2.757, 2.757,
  2.757, 2.757, 2.757, 2.757, 2.757, 2.757, 2.757, 2.757, 2.757, 2.757,
  2.757, 2.757];
const d1TimesNet = [2.31, 2.327, 2.335, 2.327, 2.331, 2.327, 2.331, 2.327, 2.38, 2.351,
  2.327, 2.36, 2.372, 2.384, 2.413, 2.38, 2.384, 2.413, 2.413, 2.397,
  2.434, 2.446, 2.438, 2.438, 2.413, 2.409, 2.401, 2.368, 2.38, 2.384,
  2.384, 2.413, 2.376, 2.384, 2.356, 2.376, 2.388, 2.401, 2.413, 2.368,
  2.422, 2.417];
const d1DLinear = [2.327, 2.36, 2.372, 2.38, 2.393, 2.413, 2.442, 2.454, 2.458, 2.479,
  2.50, 2.52, 2.541, 2.557, 2.57, 2.582, 2.602, 2.619, 2.631, 2.644,
  2.644, 2.64, 2.635, 2.631, 2.631, 2.627, 2.627, 2.635, 2.64, 2.64,
  2.64, 2.648, 2.656, 2.672, 2.689, 2.705, 2.722, 2.73, 2.734, 2.738,
  2.74, 2.742];
const d1STGNN = [2.253, 2.244, 2.24, 2.236, 2.24, 2.244, 2.249, 2.253, 2.236, 2.249,
  2.257, 2.261, 2.261, 2.277, 2.265, 2.277, 2.281, 2.294, 2.306, 2.31,
  2.306, 2.302, 2.302, 2.302, 2.302, 2.306, 2.302, 2.306, 2.306, 2.31,
  2.314, 2.314, 2.294, 2.298, 2.302, 2.302, 2.302, 2.302, 2.298, 2.298,
  2.281, 2.281];
const d1GroundTruth = [2.286, 2.228, 2.20, 2.055, 2.129, 2.179, 2.195, 2.22, 2.195, 2.179,
  2.072, 2.187, 2.22, 2.137, 2.129, 2.047, 1.989, 2.088, 2.187, 2.244,
  2.195, 2.072, 2.162, 2.17, 2.121, 2.146, 2.08, 2.179, 2.17, 2.12,
  2.096, 2.30, 2.347, 2.187, 2.095, 2.16, 2.17, 2.19, 2.154, 2.179,
  2.072, 2.269];

// ---- (d) TN, column 2
const d2History = [1.868, 1.88, 1.828, 1.822, 1.92, 2.023, 2.006, 1.954, 1.977, 1.92,
  2.109, 2.235, 2.172, 2.155, 2.241, 2.356, 2.654, 2.591, 2.722, 2.717,
  2.694, 2.768, 2.636, 2.837, 2.854, 2.757, 2.665, 2.528, 2.642, 2.757,
  2.757, 2.826, 2.872, 2.969, 3.009, 3.015, 3.032, 3.164, 3.193, 3.227,
  3.164, 3.164];
const d2Gru = [2.831, 2.834, 2.840, 2.836, 2.838, 2.845, 2.840, 2.836, 2.832, 2.838,
  2.842, 2.835, 2.838, 2.845, 2.838, 2.840, 2.836, 2.842, 2.838, 2.832,
  2.835, 2.840, 2.838, 2.845, 2.842, 2.848, 2.845, 2.842, 2.848, 2.845,
  2.850, 2.855, 2.848, 2.852, 2.845, 2.850, 2.855, 2.850, 2.852, 2.855,
  2.850, 2.852];
const d2Lstm = [2.849, 2.86, 2.854, 2.872, 2.843, 2.866, 2.877, 2.872, 2.86, 2.849,
  2.866, 2.854, 2.872, 2.854, 2.86, 2.872, 2.849, 2.872, 2.854, 2.866,
  2.849, 2.866, 2.86, 2.854, 2.872, 2.86, 2.866, 2.854, 2.866, 2.854,
  2.86, 2.86, 2.866, 2.849, 2.86, 2.843, 2.86, 2.849, 2.854, 2.849,
  2.843, 2.837];
const d2Transformer = [2.766, 2.766, 2.766, 2.766, 2.766, 2.766, 2.766, 2.766, 2.766, 2.766,
  2.766, 2.766, 2.766, 2.766, 2.766, 2.766, 2.766, 2.766, 2.766, 2.766,
  2.766, 2.766, 2.766, 2.766, 2.766, 2.766, 2.766, 2.766, 2.766, 2.766,
  2.766, 2.766, 2.766, 2.766, 2.766, 2.766, 2.766, 2.766, 2.766, 2.766,
  2.766, 2.766];
const d2TimesNet = [3.021, 3.009, 3.003, 2.952, 2.975, 2.923, 2.9, 2.889, 2.877, 2.849,
  2.814, 2.803, 2.814, 2.82, 2.791, 2.774, 2.774, 2.745, 2.774, 2.751,
  2.751, 2.768, 2.745, 2.763, 2.757, 2.745, 2.768, 2.74, 2.763, 2.757,
  2.786, 2.82, 2.803, 2.82, 2.791, 2.82, 2.831, 2.803, 2.78, 2.786,
  2.774, 2.751];
const d2DLinear = [3.187, 3.181, 3.17, 3.158, 3.147, 3.13, 3.118, 3.107, 3.095, 3.084,
  3.072, 3.055, 3.032, 3.021, 3.009, 3.015, 3.021, 3.021, 3.026, 3.026,
  3.026, 3.032, 3.049, 3.067, 3.078, 3.084, 3.089, 3.089, 3.095, 3.095,
  3.089, 3.078, 3.072, 3.067, 3.061, 3.049, 3.038, 3.032, 3.032, 3.032,
  3.032, 3.032];
const d2STGNN = [3.187, 3.175, 3.164, 3.153, 3.135, 3.118, 3.101, 3.095, 3.112, 3.101,
  3.078, 3.044, 3.021, 3.009, 2.998, 2.992, 2.975, 2.958, 2.94, 2.958,
  2.963, 2.94, 2.94, 2.94, 2.958, 2.94, 2.94, 2.958, 2.94, 2.929,
  2.917, 2.917, 2.929, 2.946, 2.935, 2.952, 2.963, 2.952, 2.958, 2.952,
  2.935, 2.917];
const d2GroundTruth = [3.20, 3.39, 3.28, 3.20, 3.18, 3.26, 3.32, 3.35, 3.10, 3.17,
  3.22, 3.27, 3.30, 3.32, 3.12, 3.00, 2.95, 3.05, 3.15, 3.20,
  3.24, 3.11, 3.16, 3.20, 3.24, 3.26, 3.15, 3.05, 3.01, 3.08,
  3.15, 3.22, 3.28, 3.00, 2.85, 2.93, 3.00, 3.05, 3.12, 3.18,
  3.23, 3.27];

// ---- (d) TN, column 3
const d3History = [3.168, 3.019, 3.019, 2.951, 3.034, 3.28, 3.407, 3.243, 3.254, 3.228,
  3.246, 3.22, 3.198, 3.041, 3.093, 3.09, 3.026, 3.213, 3.276, 3.22,
  3.093, 3.403, 3.205, 3.164, 3.157, 3.101, 3.101, 3.194, 3.22, 3.388,
  3.362, 3.343, 3.209, 3.179, 3.179, 3.388, 3.295, 3.205, 3.157, 3.157,
  3.216, 3.362];
const d3Gru = [2.806, 2.813, 2.817, 2.821, 2.817, 2.832, 2.836, 2.825, 2.832, 2.832,
  2.847, 2.854, 2.851, 2.843, 2.854, 2.862, 2.851, 2.858, 2.847, 2.858,
  2.854, 2.862, 2.851, 2.854, 2.858, 2.862, 2.851, 2.866, 2.858, 2.854,
  2.862, 2.858, 2.869, 2.862, 2.873, 2.858, 2.869, 2.877, 2.866, 2.873,
  2.866, 2.869];
const d3Lstm = [2.840, 2.847, 2.854, 2.843, 2.862, 2.851, 2.840, 2.854, 2.847, 2.858,
  2.862, 2.851, 2.869, 2.847, 2.862, 2.858, 2.847, 2.862, 2.854, 2.851,
  2.862, 2.862, 2.854, 2.858, 2.862, 2.858, 2.862, 2.851, 2.862, 2.847,
  2.858, 2.862, 2.840, 2.843, 2.858, 2.862, 2.866, 2.843, 2.854, 2.843,
  2.847, 2.840];
const d3Transformer = [2.765, 2.765, 2.765, 2.765, 2.765, 2.765, 2.765, 2.765, 2.765, 2.765,
  2.765, 2.765, 2.765, 2.765, 2.765, 2.765, 2.765, 2.765, 2.765, 2.765,
  2.765, 2.765, 2.765, 2.765, 2.765, 2.765, 2.765, 2.765, 2.765, 2.765,
  2.765, 2.765, 2.765, 2.765, 2.765, 2.765, 2.765, 2.765, 2.765, 2.765,
  2.765, 2.765];
const d3TimesNet = [3.414, 3.354, 3.354, 3.362, 3.362, 3.347, 3.328, 3.325, 3.328, 3.317,
  3.299, 3.299, 3.295, 3.287, 3.302, 3.287, 3.291, 3.295, 3.28, 3.28,
  3.284, 3.276, 3.28, 3.276, 3.28, 3.284, 3.272, 3.28, 3.254, 3.272,
  3.28, 3.287, 3.272, 3.269, 3.254, 3.269, 3.276, 3.265, 3.257, 3.257,
  3.265, 3.272];
const d3DLinear = [3.377, 3.28, 3.257, 3.265, 3.265, 3.22, 3.175, 3.168, 3.168, 3.16,
  3.131, 3.116, 3.104, 3.101, 3.104, 3.093, 3.075, 3.063, 3.056, 3.045,
  3.041, 3.034, 3.011, 2.996, 2.981, 2.97, 2.966, 2.974, 2.978, 2.97,
  2.955, 2.94, 2.933, 2.937, 2.94, 2.933, 2.922, 2.91, 2.907, 2.914,
  2.914, 2.914];
const d3STGNN = [3.53, 3.489, 3.481, 3.474, 3.496, 3.511, 3.47, 3.463, 3.463, 3.466,
  3.47, 3.459, 3.448, 3.437, 3.425, 3.437, 3.444, 3.437, 3.444, 3.437,
  3.455, 3.437, 3.437, 3.422, 3.429, 3.429, 3.425, 3.433, 3.425, 3.429,
  3.418, 3.429, 3.414, 3.429, 3.444, 3.433, 3.437, 3.433, 3.437, 3.429,
  3.437, 3.451];
const d3GroundTruth = [3.563, 3.623, 3.705, 3.646, 3.787, 3.578, 3.399, 3.534, 3.496, 3.653,
  3.668, 3.66, 3.70, 3.75, 3.50, 3.354, 3.40, 3.46, 3.55, 3.58,
  3.593, 3.55, 3.40, 3.38, 3.50, 3.62, 3.45, 3.38, 3.30, 3.22,
  3.15, 3.12, 3.101, 3.20, 3.28, 3.23, 3.20, 3.18, 3.168, 3.35,
  3.549, 3.22];

// grid of panels: rows = variables, columns = stations
const panelGrid = [
  [
    { history: a1History, forecasts: [a1Gru, a1Lstm, a1Transformer, a1TimesNet, a1DLinear, a1STGNN, a1GroundTruth] },
    { history: a2History, forecasts: [a2Gru, a2Lstm, a2Transformer, a2TimesNet, a2DLinear, a2STGNN, a2GroundTruth] },
    { history: a3History, forecasts: [a3Gru, a3Lstm, a3Transformer, a3TimesNet, a3DLinear, a3STGNN, a3GroundTruth] }
  ],
  [
    { history: b1History, forecasts: [b1Gru, b1Lstm, b1Transformer, b1TimesNet, b1DLinear, b1STGNN, b1GroundTruth] },
    { history: b2History, forecasts: [b2Gru, b2Lstm, b2Transformer, b2TimesNet, b2DLinear, b2STGNN, b2GroundTruth] },
    { history: b3History, forecasts: [b3Gru, b3Lstm, b3Transformer, b3TimesNet, b3DLinear, b3STGNN, b3GroundTruth] }
  ],
  [
    { history: c1History, forecasts: [c1Gru, c1Lstm, c1Transformer, c1TimesNet, c1DLinear, c1STGNN, c1GroundTruth] },
    { history: c2History, forecasts: [c2Gru, c2Lstm, c2Transformer, c2TimesNet, c2DLinear, c2STGNN, c2GroundTruth] },
    { history: c3History, forecasts: [c3Gru, c3Lstm, c3Transformer, c3TimesNet, c3DLinear, c3STGNN, c3GroundTruth] }
  ],
  [
    { history: d1History, forecasts: [d1Gru, d1Lstm, d1Transformer, d1TimesNet, d1DLinear, d1STGNN, d1GroundTruth] },
    { history: d2History, forecasts: [d2Gru, d2Lstm, d2Transformer, d2TimesNet, d2DLinear, d2STGNN, d2GroundTruth] },
    { history: d3History, forecasts: [d3Gru, d3Lstm, d3Transformer, d3TimesNet, d3DLinear, d3STGNN, d3GroundTruth] }
  ]
];

// layout
const width = 4124;
const height = 3104;
const colLeft = [403, 1725, 3047];
const rowTop = [96, 797, 1497, 2200];
const panelW = 1026;
const panelH = 628;
const fontFamily = '"Liberation Serif", "DejaVu Serif", serif';
const tickFont = 80;
const labelFont = 84;
const legendFont = 90;
const yLabelCenter = [450, 1215, 1809, 2551];
const letterBaseline = [106, 864, 1555, 2258];
const legendHandleX = [47, 408, 750, 1460, 1999, 2451, 3038, 3682];
const legendY = 3020;

const svg = d3.select('#chart')
  .attr('width', width)
  .attr('height', height)
  .style('background-color', 'white')
  .attr('font-family', fontFamily);

const x = d3.scaleLinear().domain([0, 84]).range([0, panelW]);
const fmt = d3.format('.2f');

panelGrid.forEach((row, r) => {
  row.forEach((p, c) => {
    const g = svg.append('g').attr('transform', `translate(${colLeft[c]}, ${rowTop[r]})`);
    const allValues = p.history.concat(...p.forecasts);
    const [lo, hi] = d3.extent(allValues);
    const pad = (hi - lo) * 0.05;
    const y = d3.scaleLinear().domain([lo - pad, hi + pad]).range([panelH, 0]);

    const clipId = `clip-${r}-${c}`;
    g.append('clipPath').attr('id', clipId)
      .append('rect').attr('width', panelW).attr('height', panelH);
    const plot = g.append('g').attr('clip-path', `url(#${clipId})`);
    const line = d3.line().x((d) => x(d[0])).y((d) => y(d[1]));
    const last = p.history.length - 1;

    // forecasts start from the last history point
    p.forecasts.forEach((fc, i) => {
      const pts = [[last, p.history[last]]].concat(fc.map((v, k) => [last + 1 + k, v]));
      plot.append('path')
        .datum(pts)
        .attr('d', line)
        .attr('fill', 'none')
        .attr('stroke', seriesColors[i])
        .attr('stroke-width', i === 6 ? 4.5 : 5.5)
        .attr('stroke-dasharray', i === 6 ? '20,10' : null)
        .attr('stroke-linejoin', 'round');
    });

    plot.append('path')
      .datum(p.history.map((v, k) => [k, v]))
      .attr('d', line)
      .attr('fill', 'none')
      .attr('stroke', seriesColors[7])
      .attr('stroke-width', 5.5)
      .attr('stroke-linejoin', 'round');

    // axes
    const yAxis = d3.axisLeft(y).tickValues(yTickValues[r][c]).tickFormat(fmt)
      .tickSize(27).tickPadding(35);
    const yg = g.append('g').call(yAxis);
    const xAxis = d3.axisBottom(x).tickValues(xTickValues)
      .tickFormat(r === panelGrid.length - 1 ? d3.format('d') : () => '')
      .tickSize(27).tickPadding(32);
    const xg = g.append('g').attr('transform', `translate(0, ${panelH})`).call(xAxis);
    [yg, xg].forEach((ag) => {
      ag.select('.domain').remove();
      ag.attr('font-size', tickFont).attr('font-family', fontFamily);
      ag.selectAll('.tick line').attr('stroke', '#000').attr('stroke-width', 5);
      ag.selectAll('.tick text').attr('fill', '#000');
    });

    g.append('rect')
      .attr('width', panelW)
      .attr('height', panelH)
      .attr('fill', 'none')
      .attr('stroke', '#000')
      .attr('stroke-width', 5.5);
  });

  // row letter
  svg.append('text')
    .attr('x', 66)
    .attr('y', letterBaseline[r])
    .attr('font-size', labelFont)
    .text(rowLetters[r]);
});

// y-axis titles
const yTitles = [
  [['COD', 0], ['Mn', 1], [' (Mg/L)', 0]],
  [['DO (Mg/L)', 0]],
  [['TP (Mg/L)', 0]],
  [['TN (Mg/L)', 0]]
];
yTitles.forEach((parts, r) => {
  const t = svg.append('text')
    .attr('transform', `translate(134, ${yLabelCenter[r]}) rotate(-90)`)
    .attr('text-anchor', 'middle')
    .attr('font-size', labelFont);
  parts.forEach(([s, sub]) => {
    const ts = t.append('tspan').text(s);
    if (sub) ts.attr('font-size', labelFont * 0.6).attr('dy', 14);
    else if (parts.length > 1 && s.startsWith(' ')) ts.attr('dy', -14);
  });
});

// legend
seriesNames.forEach((name, i) => {
  const x0 = legendHandleX[i];
  svg.append('line')
    .attr('x1', x0).attr('x2', x0 + 104)
    .attr('y1', legendY).attr('y2', legendY)
    .attr('stroke', seriesColors[i])
    .attr('stroke-width', i === 6 ? 4.5 : 5.5)
    .attr('stroke-dasharray', i === 6 ? '20,10' : null);
  svg.append('text')
    .attr('x', x0 + 116)
    .attr('y', legendY + legendFont * 0.3)
    .attr('font-size', legendFont)
    .text(name);
});
</script>
</body>
</html>
